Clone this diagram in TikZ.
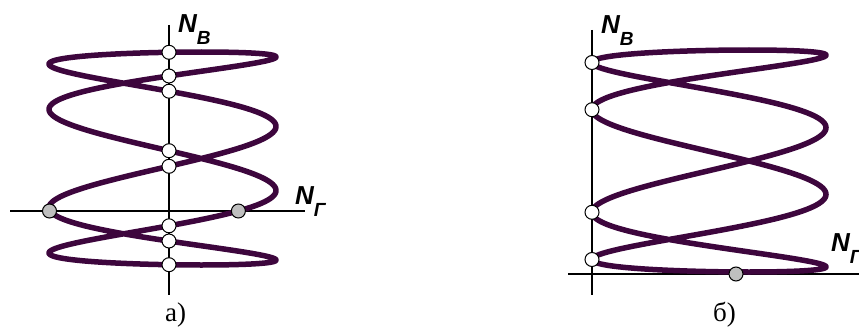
\documentclass[tikz,border=0pt]{standalone}
\usepackage{fontspec}
\setmainfont{Liberation Serif}
\newfontfamily\lblfont{Liberation Sans}
\definecolor{curvecol}{RGB}{61,6,61}
\newcommand\axsub[1]{\raisebox{-12pt}{\fontsize{19}{19}\selectfont #1}}
\tikzset{
  axisline/.style={line width=2.4pt, black},
  curveline/.style={line width=5.5pt, draw=curvecol, line join=round, line cap=round},
  wdot/.style={circle, draw=black, line width=1pt, fill=white, minimum size=14pt, inner sep=0pt},
  gdot/.style={wdot, fill=black!25},
  axlabel/.style={font=\lblfont\bfseries\itshape\fontsize{26}{26}\selectfont, inner sep=0pt, anchor=base west},
  captext/.style={font=\fontsize{27}{27}\selectfont, inner sep=0pt, anchor=base west}
}
\begin{document}
\begin{tikzpicture}[x=1pt,y=-1pt]
\useasboundingbox (0,0) rectangle (859,329);
\clip (0,0) rectangle (859,329);
% ---------- panel a ----------
\coordinate (ahl) at (10,211);
\coordinate (ahr) at (305,211);
\coordinate (avt) at (169,25);
\coordinate (avb) at (169,295);
\draw[axisline] (ahl) -- (ahr);
\draw[axisline] (avt) -- (avb);
\draw[curveline] plot[domain=0:360, samples=721] ({162.5+113.5*sin(4*\x+20)}, {158.5-106.5*cos(\x)}) -- cycle;
\foreach \yy [count=\i] in {52.3,76.0,91.2,150.7,166.3,225.8,241.0,264.7}
  \node[wdot] (aw\i) at (169,\yy) {};
\node[gdot] (ag1) at (49.5,211) {};
\node[gdot] (ag2) at (238.4,211) {};
\node[axlabel] (anv) at (178,33) {N\axsub{В}};
\node[axlabel] (ang) at (295,204) {N\axsub{Г}};
\node[captext] (acap) at (165,321) {а)};
% ---------- panel b ----------
\coordinate (bhl) at (568,274);
\coordinate (bhr) at (870,274);
\coordinate (bvt) at (592,30);
\coordinate (bvb) at (592,295);
\draw[axisline] (bhl) -- (bhr);
\draw[axisline] (bvt) -- (bvb);
\draw[curveline] plot[domain=0:360, samples=721] ({709+117*sin(4*\x+20)}, {161-111*cos(\x)}) -- cycle;
\foreach \yy [count=\i] in {62.5,109.7,212.3,259.5}
  \node[wdot] (bw\i) at (592,\yy) {};
\node[gdot] (bg1) at (736,274) {};
\node[axlabel] (bnv) at (601,34) {N\axsub{В}};
\node[axlabel] (bng) at (831,251) {N\axsub{Г}};
\node[captext] (bcap) at (713,321) {б)};
\end{tikzpicture}
\end{document}
